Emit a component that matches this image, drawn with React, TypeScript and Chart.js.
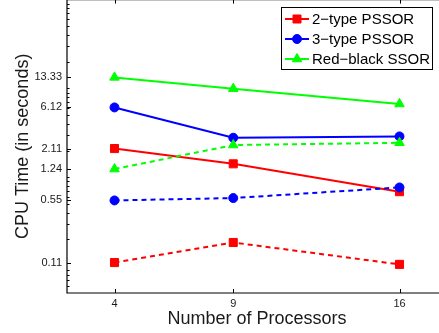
import React, { useEffect, useRef } from 'react';
import { Chart, registerables } from 'chart.js';

Chart.register(...registerables);

const processors = [4, 9, 16];
const xTickValues = [4, 9, 16];
const yTickValues = [0.11, 0.55, 1.24, 2.11, 6.12, 13.33];
const yMinorTicks = [0.06, 0.07, 0.08, 0.09, 0.2, 0.3, 0.4, 0.5, 0.6, 0.7, 0.8, 0.9, 1, 2, 3, 4, 5, 6, 7, 8, 9, 10, 20, 30, 40, 50, 60, 70, 80, 90];

const pssor2Solid = [2.11, 1.42, 0.69];
const pssor2Dashed = [0.11, 0.185, 0.105];
const pssor3Solid = [6.12, 2.79, 2.89];
const pssor3Dashed = [0.55, 0.585, 0.77];
const redBlackSolid = [13.33, 9.95, 6.7];
const redBlackDashed = [1.24, 2.31, 2.45];

const legendLabels = ['2\u2212type PSSOR', '3\u2212type PSSOR', 'Red\u2212black SSOR'];
const RED = '#ff0000';
const BLUE = '#0000ff';
const GREEN = '#00ff00';
const FONT = '"Liberation Sans", Arial, Helvetica, sans-serif';

function drawMarker(ctx: CanvasRenderingContext2D, style: string, x: number, y: number, color: string) {
  ctx.save();
  ctx.fillStyle = color;
  ctx.strokeStyle = color;
  ctx.lineWidth = 1;
  ctx.setLineDash([]);
  ctx.beginPath();
  if (style === 'rect') {
    ctx.rect(x - 4, y - 4, 8, 8);
  } else if (style === 'circle') {
    ctx.arc(x, y, 4.5, 0, Math.PI * 2);
  } else {
    const r = 5.5;
    ctx.moveTo(x, y - r);
    ctx.lineTo(x + r * 0.866, y + r * 0.5);
    ctx.lineTo(x - r * 0.866, y + r * 0.5);
    ctx.closePath();
  }
  ctx.fill();
  ctx.stroke();
  ctx.restore();
}

const boxPlugin = {
  id: 'boxPlugin',
  afterDraw(chart: any) {
    const { ctx, chartArea: a, scales } = chart;
    const xs = scales.x;
    const ys = scales.y;
    ctx.save();
    ctx.strokeStyle = '#000';
    ctx.lineWidth = 1.2;
    ctx.setLineDash([]);
    ctx.beginPath();
    ctx.rect(a.left, a.top, a.right - a.left, a.bottom - a.top);
    ctx.stroke();
    ctx.lineWidth = 1;
    ctx.beginPath();
    xTickValues.forEach((v) => {
      const px = Math.round(xs.getPixelForValue(v)) + 0.5;
      ctx.moveTo(px, a.bottom);
      ctx.lineTo(px, a.bottom - 4);
      ctx.moveTo(px, a.top);
      ctx.lineTo(px, a.top + 4);
    });
    yTickValues.forEach((v) => {
      const py = Math.round(ys.getPixelForValue(v)) + 0.5;
      ctx.moveTo(a.left, py);
      ctx.lineTo(a.left + 4, py);
      ctx.moveTo(a.right, py);
      ctx.lineTo(a.right - 4, py);
    });
    yMinorTicks.forEach((v) => {
      const py = Math.round(ys.getPixelForValue(v)) + 0.5;
      ctx.moveTo(a.left, py);
      ctx.lineTo(a.left + 2.5, py);
      ctx.moveTo(a.right, py);
      ctx.lineTo(a.right - 2.5, py);
    });
    ctx.stroke();

    // legend
    const lx = 281.5, ly = 19.5, lw = 151, lh = 62;
    ctx.fillStyle = '#fff';
    ctx.fillRect(lx, ly, lw, lh);
    ctx.strokeStyle = '#000';
    ctx.lineWidth = 1;
    ctx.strokeRect(lx, ly, lw, lh);
    const colors = [RED, BLUE, GREEN];
    const styles = ['rect', 'circle', 'triangle'];
    ctx.font = '15px ' + FONT;
    ctx.textBaseline = 'middle';
    ctx.textAlign = 'left';
    legendLabels.forEach((label, i) => {
      const cy = 31 + i * 20;
      ctx.strokeStyle = colors[i];
      ctx.lineWidth = 2;
      ctx.beginPath();
      ctx.moveTo(285, cy);
      ctx.lineTo(309, cy);
      ctx.stroke();
      drawMarker(ctx, styles[i], 297, cy, colors[i]);
      ctx.fillStyle = '#000';
      ctx.fillText(label, 312, cy + 1);
    });
    ctx.restore();
  },
};

function makeSeries(label: string, values: number[], color: string, style: string, dashed: boolean, order: number) {
  return {
    label,
    data: processors.map((p, i) => ({ x: p, y: values[i] })),
    borderColor: color,
    backgroundColor: color,
    borderWidth: 2,
    borderDash: dashed ? [5, 4] : [],
    pointStyle: style,
    pointRadius: style === 'rect' ? 5.7 : style === 'circle' ? 4.5 : 5.5,
    pointBorderWidth: 1,
    pointBorderColor: color,
    pointBackgroundColor: color,
    tension: 0,
    fill: false,
    order,
  };
}

export default function App() {
  const ref = useRef<HTMLCanvasElement | null>(null);
  useEffect(() => {
    if (!ref.current) return;
    const chart = new Chart(ref.current, {
      type: 'line',
      data: {
        datasets: [
          makeSeries('2-type PSSOR', pssor2Solid, RED, 'rect', false, 6),
          makeSeries('2-type PSSOR (dashed)', pssor2Dashed, RED, 'rect', true, 5),
          makeSeries('3-type PSSOR', pssor3Solid, BLUE, 'circle', false, 4),
          makeSeries('3-type PSSOR (dashed)', pssor3Dashed, BLUE, 'circle', true, 3),
          makeSeries('Red-black SSOR', redBlackSolid, GREEN, 'triangle', false, 2),
          makeSeries('Red-black SSOR (dashed)', redBlackDashed, GREEN, 'triangle', true, 1),
        ] as any,
      },
      options: {
        animation: false,
        responsive: false,
        devicePixelRatio: 1,
        layout: { padding: { top: 10, right: 13, left: 0, bottom: 0 } },
        plugins: { legend: { display: false }, tooltip: { enabled: false } },
        scales: {
          x: {
            type: 'linear',
            min: 2,
            max: 18,
            grid: { display: false, drawTicks: false },
            border: { display: false },
            afterBuildTicks: (s: any) => {
              s.ticks = xTickValues.map((v) => ({ value: v }));
            },
            afterFit: (s: any) => {
              s.height = 40;
            },
            ticks: {
              autoSkip: false,
              maxRotation: 0,
              padding: 4,
              color: '#1a1a1a',
              font: { family: FONT, size: 11 },
              callback: (v: any) => String(v),
            },
            title: {
              display: true,
              text: 'Number of Processors',
              color: '#1a1a1a',
              font: { family: FONT, size: 18 },
              padding: { top: 0, bottom: 3 },
            },
          },
          y: {
            type: 'logarithmic',
            min: 0.05,
            max: 100,
            grid: { display: false, drawTicks: false },
            border: { display: false },
            afterBuildTicks: (s: any) => {
              s.ticks = yTickValues.map((v) => ({ value: v }));
            },
            afterFit: (s: any) => {
              s.width = 67;
            },
            ticks: {
              autoSkip: false,
              padding: 5,
              color: '#1a1a1a',
              font: { family: FONT, size: 11 },
              callback: (v: any) => String(v),
            },
            title: {
              display: true,
              text: 'CPU Time (in seconds)',
              color: '#1a1a1a',
              font: { family: FONT, size: 18 },
              padding: { top: 12, bottom: 0 },
            },
          },
        },
      },
      plugins: [boxPlugin],
    } as any);
    return () => chart.destroy();
  }, []);
  return (
    <div style={{ position: 'fixed', left: 0, top: 0, width: 439, height: 333, overflow: 'hidden', background: '#fff' }}>
      <canvas
        ref={ref}
        width={460}
        height={345}
        style={{ display: 'block', position: 'absolute', left: 0, top: -12, width: 460, height: 345 }}
      />
    </div>
  );
}
